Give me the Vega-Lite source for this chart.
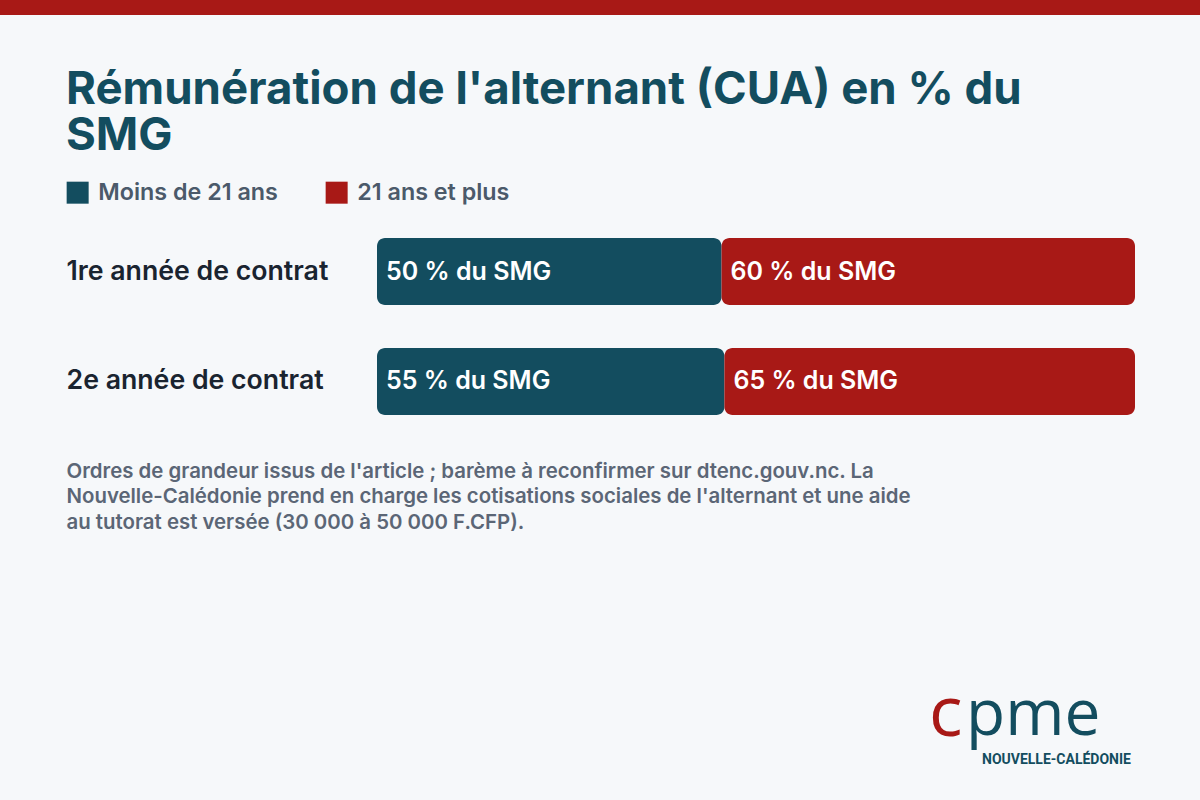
{
  "$schema": "https://vega.github.io/schema/vega-lite/v6.json",
  "width": 758,
  "height": 177,
  "autosize": {"type": "none"},
  "padding": {"left": 377, "top": 238, "right": 65, "bottom": 385},
  "background": "#f6f8fa",
  "config": {
    "font": "Inter",
    "view": {"stroke": null}
  },
  "title": {
    "text": ["Rémunération de l'alternant (CUA) en % du", "SMG"],
    "font": "Inter",
    "fontSize": 45.6,
    "fontWeight": 700,
    "color": "#134d5f",
    "anchor": "start",
    "frame": "bounds",
    "baseline": "alphabetic",
    "lineHeight": 46,
    "offset": -196,
    "dx": 66
  },
  "datasets": {
    "bars": [
      {"annee": "1re année de contrat", "groupe": "Moins de 21 ans", "pct": 50, "ord": 1, "label": "50 % du SMG"},
      {"annee": "1re année de contrat", "groupe": "21 ans et plus", "pct": 60, "ord": 2, "label": "60 % du SMG"},
      {"annee": "2e année de contrat", "groupe": "Moins de 21 ans", "pct": 55, "ord": 1, "label": "55 % du SMG"},
      {"annee": "2e année de contrat", "groupe": "21 ans et plus", "pct": 65, "ord": 2, "label": "65 % du SMG"}
    ],
    "one": [{"logo_c": "c", "logo_pme": "pme", "logo_sub": "NOUVELLE-CALÉDONIE"}]
  },
  "layer": [
    {
      "data": {"name": "one"},
      "mark": {"type": "rect", "color": "#a81916"},
      "encoding": {
        "x": {"value": -377}, "x2": {"value": 823},
        "y": {"value": -238}, "y2": {"value": -223}
      }
    },
    {
      "data": {"name": "bars"},
      "transform": [
        {"stack": "pct", "groupby": ["annee"], "offset": "normalize", "sort": [{"field": "ord", "order": "ascending"}], "as": ["s0", "s1"]}
      ],
      "mark": {"type": "bar", "cornerRadius": 8},
      "encoding": {
        "y": {
          "field": "annee", "type": "nominal", "sort": null,
          "scale": {"paddingInner": 0.39, "paddingOuter": 0},
          "axis": {
            "title": null, "domain": false, "ticks": false, "grid": false,
            "labelAlign": "left", "labelPadding": 311, "labelBaseline": "middle",
            "labelFont": "Inter", "labelFontSize": 26.7, "labelFontWeight": 600,
            "labelColor": "#1a2430", "labelLimit": 400
          }
        },
        "x": {
          "field": "s0", "type": "quantitative",
          "scale": {"domain": [0, 1], "nice": false, "zero": true},
          "axis": {
            "domain": false, "ticks": false, "labels": false, "grid": false,
            "title": [
              "Ordres de grandeur issus de l'article ; barème à reconfirmer sur dtenc.gouv.nc. La",
              "Nouvelle-Calédonie prend en charge les cotisations sociales de l'alternant et une aide",
              "au tutorat est versée (30 000 à 50 000 F.CFP)."
            ],
            "titleX": -311, "titleY": 62, "titleAlign": "left", "titleBaseline": "alphabetic",
            "titleAngle": 0, "titleFont": "Inter", "titleFontSize": 20.4, "titleFontWeight": 600,
            "titleColor": "#5b6676", "titleLineHeight": 25.5, "titleLimit": 1000
          }
        },
        "x2": {"field": "s1"},
        "color": {
          "field": "groupe", "type": "nominal",
          "scale": {"domain": ["Moins de 21 ans", "21 ans et plus"], "range": ["#134d5f", "#a81916"]},
          "legend": {
            "title": null, "orient": "none", "legendX": -311, "legendY": -57,
            "direction": "horizontal", "symbolType": "square", "symbolSize": 484,
            "symbolStrokeWidth": 0, "labelFont": "Inter", "labelFontSize": 23.3, "labelFontWeight": 600,
            "labelColor": "#4b5a6a", "labelLimit": 400, "columnPadding": 47, "labelOffset": 9, "padding": 0
          }
        }
      }
    },
    {
      "data": {"name": "bars"},
      "transform": [
        {"stack": "pct", "groupby": ["annee"], "offset": "normalize", "sort": [{"field": "ord", "order": "ascending"}], "as": ["s0", "s1"]}
      ],
      "mark": {"type": "text", "align": "left", "baseline": "middle", "dx": 9, "font": "Inter", "fontSize": 25, "fontWeight": 600, "color": "#ffffff"},
      "encoding": {
        "y": {"field": "annee", "type": "nominal", "sort": null},
        "x": {"field": "s0", "type": "quantitative"},
        "text": {"field": "label"}
      }
    },
    {
      "data": {"name": "one"},
      "mark": {"type": "text", "align": "left", "baseline": "alphabetic", "font": "Open Sans", "fontSize": 70, "fontWeight": 400, "color": "#a81916"},
      "encoding": {"x": {"value": 552}, "y": {"value": 498}, "text": {"field": "logo_c"}}
    },
    {
      "data": {"name": "one"},
      "mark": {"type": "text", "align": "left", "baseline": "alphabetic", "font": "Open Sans", "fontSize": 64, "fontWeight": 400, "color": "#134d5f"},
      "encoding": {"x": {"value": 589}, "y": {"value": 497}, "text": {"field": "logo_pme"}}
    },
    {
      "data": {"name": "one"},
      "mark": {"type": "text", "align": "left", "baseline": "alphabetic", "font": "Roboto", "fontSize": 14, "fontWeight": 700, "color": "#134d5f"},
      "encoding": {"x": {"value": 605}, "y": {"value": 526}, "text": {"field": "logo_sub"}}
    }
  ]
}
